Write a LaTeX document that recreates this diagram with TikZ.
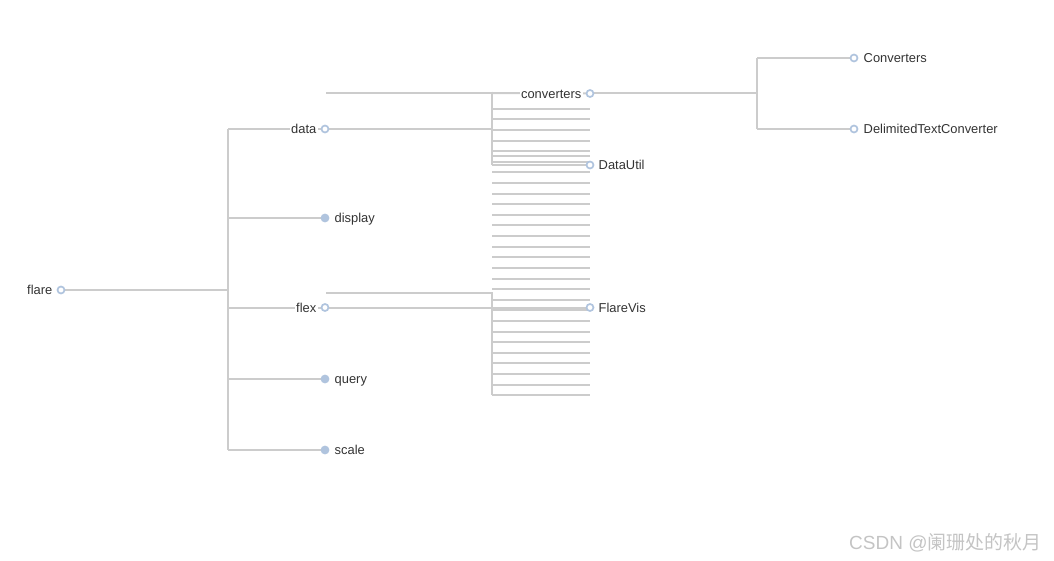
\documentclass[tikz,border=0pt]{standalone}
\usepackage{fontspec}
\setmainfont{Liberation Sans}
\newfontfamily\cjkfont{Noto Sans CJK SC}
\definecolor{edgegray}{HTML}{CCCCCC}
\definecolor{nodeblue}{HTML}{B0C4DE}
\definecolor{textgray}{HTML}{333333}
\definecolor{markgray}{HTML}{C4C4C4}
\pgfdeclarelayer{background}
\pgfsetlayers{background,main}
\begin{document}
\begin{tikzpicture}[x=1pt,y=-1pt,
  edge/.style={draw=edgegray,line width=2pt},
  opennode/.style={circle,draw=nodeblue,fill=white,line width=1.7pt,minimum size=7pt,inner sep=0pt},
  fullnode/.style={circle,draw=nodeblue,fill=nodeblue,line width=1.7pt,minimum size=7pt,inner sep=0pt},
  lbl/.style={text=textgray,font=\fontsize{12.9}{14}\selectfont,inner sep=1.5pt,text height=0.72em,text depth=0.2em},
  lleft/.style={lbl,anchor=east,fill=white},
  lright/.style={lbl,anchor=west},
]
\useasboundingbox (0,0) rectangle (1054,561);

% nodes
\node[opennode] (flare) at (61,290) {};
\node[opennode] (data) at (325,129) {};
\node[fullnode] (display) at (325,218) {};
\node[opennode] (flex) at (325,307.5) {};
\node[fullnode] (query) at (325,379) {};
\node[fullnode] (scale) at (325,450) {};
\node[opennode] (converters) at (590,93.5) {};
\node[opennode] (datautil) at (590,165) {};
\node[opennode] (flarevis) at (590,307.5) {};
\node[opennode] (Converters) at (854,58) {};
\node[opennode] (delimited) at (854,129) {};

% labels
\node[lleft] (tflare) at (54,291.5) {flare};
\node[lleft] (tdata) at (318,131) {data};
\node[lleft] (tflex) at (318,309.5) {flex};
\node[lleft] (tconverters) at (583,95.5) {converters};
\node[lright] (tdisplay) at (333,220) {display};
\node[lright] (tquery) at (333,381) {query};
\node[lright] (tscale) at (333,452) {scale};
\node[lright] (tdatautil) at (597,167) {DataUtil};
\node[lright] (tflarevis) at (597,309.5) {FlareVis};
\node[lright] (tConverters) at (862,60) {Converters};
\node[lright] (tdelimited) at (862,131) {DelimitedTextConverter};

% coordinates
\coordinate (rootmid) at (228,290);
\coordinate (datamid) at (492,129);
\coordinate (flexmid) at (492,307.5);
\coordinate (convmid) at (757,93.5);
\coordinate (dtopL) at (326,93);
\coordinate (dtopR) at (492,93);
\coordinate (ftopL) at (326,293);
\coordinate (ftopR) at (492,293);
\coordinate (dbot) at (492,165);
\coordinate (fbot) at (492,395);

\node[text=markgray,anchor=west,inner sep=0pt,font=\fontsize{19}{22}\selectfont] (mark) at (849,543) {CSDN @\cjkfont 阑珊处的秋月};

\begin{pgfonlayer}{background}
% root level
\draw[edge] (flare.center) -- (rootmid);
\draw[edge] (228,129) -- (228,450);
\foreach \c in {data,display,flex,query,scale}
  \draw[edge] (rootmid |- \c) -- (\c.center);
% data subtree
\draw[edge] (data.center) -- (datamid);
\draw[edge] (dtopL) -- (dtopR) -- (dbot);
\draw[edge] (dtopR) -- (converters.center);
\draw[edge] (datamid |- datautil) -- (datautil.center);
\foreach \y in {109.3,119.3,130,140.7,150.7,156,161.7}
  \draw[edge] (492,\y) coordinate (sa) -- (590,\y) coordinate (sb);
% flex subtree
\draw[edge] (ftopL) -- (ftopR) -- (fbot);
\draw[edge] (flex.center) -- (flarevis.center);
\foreach \k in {0,...,21}
  \draw[edge] (492,{172.5+10.6*\k}) coordinate (la) -- (590,{172.5+10.6*\k}) coordinate (lb);
% converters subtree
\draw[edge] (converters.center) -- (convmid);
\draw[edge] (convmid |- Converters) -- (convmid |- delimited);
\draw[edge] (convmid |- Converters) -- (Converters.center);
\draw[edge] (convmid |- delimited) -- (delimited.center);
\end{pgfonlayer}
\end{tikzpicture}
\end{document}
